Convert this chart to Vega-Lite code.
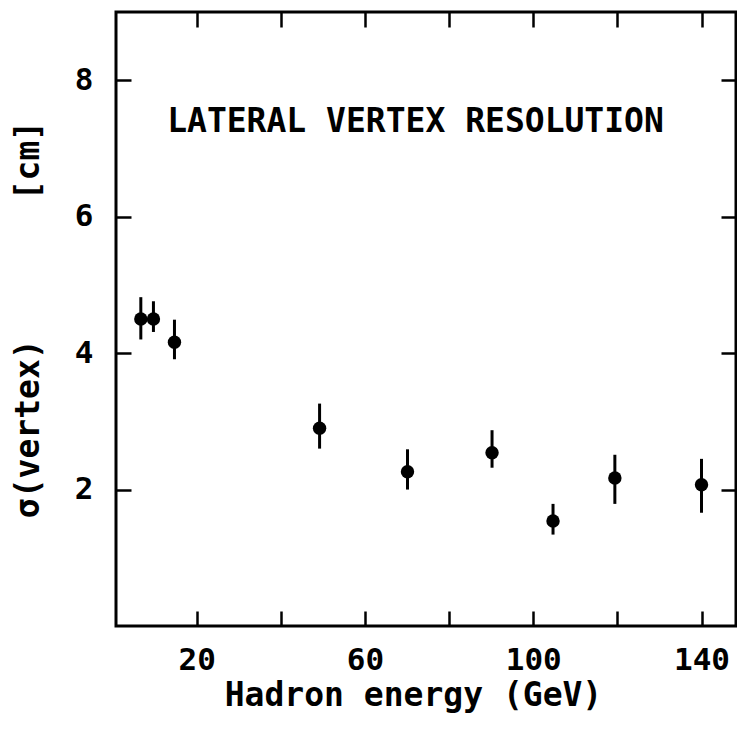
{
  "$schema": "https://vega.github.io/schema/vega-lite/v6.json",
  "width": 620,
  "height": 614,
  "autosize": {"type": "none"},
  "padding": {"left": 116, "top": 12, "right": 1, "bottom": 103},
  "background": "white",
  "config": {
    "view": {"stroke": "black", "strokeWidth": 3},
    "font": "DejaVu Sans Mono",
    "axis": {
      "domain": false,
      "grid": false,
      "tickColor": "black",
      "tickWidth": 2.5,
      "tickSize": -15,
      "labelColor": "black",
      "labelFont": "DejaVu Sans Mono",
      "labelFontSize": 31,
      "labelFontWeight": "bold",
      "titleFont": "DejaVu Sans Mono",
      "titleFontSize": 33,
      "titleFontWeight": "bold",
      "titleColor": "black"
    }
  },
  "data": {
    "values": [
      {"E": 6.7, "s": 4.50, "lo": 4.20, "hi": 4.82},
      {"E": 9.7, "s": 4.50, "lo": 4.31, "hi": 4.76},
      {"E": 14.7, "s": 4.16, "lo": 3.91, "hi": 4.49},
      {"E": 49.2, "s": 2.90, "lo": 2.60, "hi": 3.26},
      {"E": 70.1, "s": 2.26, "lo": 2.00, "hi": 2.59},
      {"E": 90.2, "s": 2.54, "lo": 2.32, "hi": 2.87},
      {"E": 104.7, "s": 1.54, "lo": 1.34, "hi": 1.79},
      {"E": 119.4, "s": 2.17, "lo": 1.79, "hi": 2.51},
      {"E": 140.0, "s": 2.07, "lo": 1.66, "hi": 2.45}
    ]
  },
  "layer": [
    {
      "mark": {"type": "rule", "color": "black", "strokeWidth": 3},
      "encoding": {
        "x": {
          "field": "E", "type": "quantitative",
          "scale": {"domain": [0.8, 148.2], "nice": false, "zero": false},
          "axis": {
            "orient": "bottom",
            "values": [20, 40, 60, 80, 100, 120, 140],
            "labelExpr": "(datum.value == 40 || datum.value == 80 || datum.value == 120) ? '' : datum.label",
            "labelPadding": 34,
            "labelBaseline": "top",
            "labelFlush": false,
            "labelOverlap": false,
            "title": "Hadron energy (GeV)",
            "titleX": 297,
            "titleY": 79,
            "titleAlign": "center",
            "titleBaseline": "alphabetic"
          }
        },
        "y": {
          "field": "lo", "type": "quantitative",
          "scale": {"domain": [0, 9], "nice": false},
          "axis": {
            "orient": "left",
            "values": [2, 4, 6, 8],
            "labelPadding": 38,
            "labelFlush": false,
            "title": "σ(vertex)\u00a0\u00a0\u00a0\u00a0\u00a0\u00a0\u00a0[cm]",
            "titleX": -88,
            "titleY": 307,
            "titleAngle": -90,
            "titleAlign": "center",
            "titleBaseline": "middle"
          }
        },
        "y2": {"field": "hi"}
      }
    },
    {
      "mark": {"type": "point", "filled": true, "shape": "circle", "color": "black", "size": 180, "opacity": 1},
      "encoding": {
        "x": {
          "field": "E", "type": "quantitative",
          "axis": {"orient": "top", "values": [20, 40, 60, 80, 100, 120, 140], "labels": false, "title": null}
        },
        "y": {
          "field": "s", "type": "quantitative",
          "axis": {"orient": "right", "values": [2, 4, 6, 8], "labels": false, "title": null}
        }
      }
    },
    {
      "data": {"values": [{"t": "LATERAL VERTEX RESOLUTION", "E": 72, "s": 7.39}]},
      "mark": {"type": "text", "font": "DejaVu Sans Mono", "fontSize": 33, "fontWeight": "bold", "color": "black", "align": "center", "baseline": "middle"},
      "encoding": {
        "x": {"field": "E", "type": "quantitative", "axis": null},
        "y": {"field": "s", "type": "quantitative", "axis": null},
        "text": {"field": "t"}
      }
    }
  ],
  "resolve": {"axis": {"x": "independent", "y": "independent"}}
}
